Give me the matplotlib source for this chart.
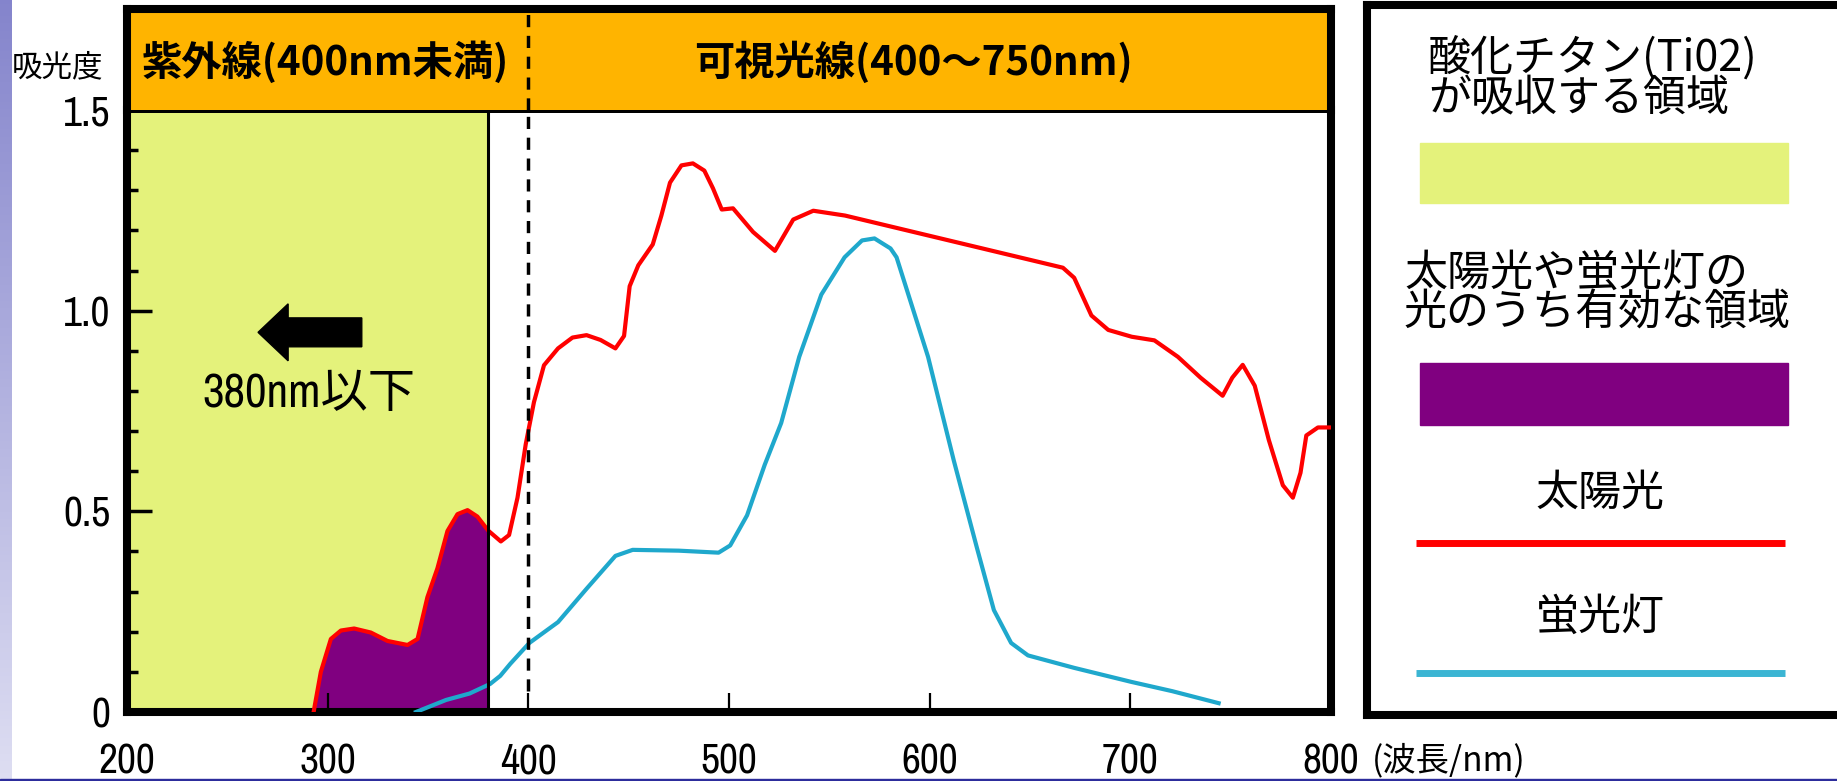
import numpy as np
import matplotlib.pyplot as plt
from matplotlib import font_manager
from matplotlib.patches import Rectangle
from matplotlib.ticker import MultipleLocator

JP = ['Noto Sans CJK JP', 'DejaVu Sans']
plt.rcParams['font.family'] = JP

# narrow upright face for the axis numbers, if one is installed
_narrow = [f.name for f in font_manager.fontManager.ttflist
           if 'Narrow' in f.name and f.style == 'normal']
NUM_FAMILY = [_narrow[0]] if _narrow else ['Liberation Sans']

# 太陽光 (wavelength nm, absorbance)
sun_nm = [293, 296.6, 301.6, 306.6, 313.2, 321.5, 329.8, 339.8, 344.8, 349.7,
          354.7, 359.7, 364.7, 369.7, 374.6, 380, 386.3, 390.4, 394.6, 398.7,
          402.8, 407.8, 414.8, 422, 429, 436, 443.4, 447.7, 450.5, 454.8,
          462, 466.3, 470.6, 476.3, 482, 487.7, 492, 496.4, 502, 512,
          522.9, 532, 542, 557.8, 666.4, 672, 680.6, 689, 700.7, 712,
          723.7, 735, 746, 750.8, 756, 762, 769, 776, 781, 784.8,
          787.7, 793.5, 800]
sun_abs = [0.0, 0.10, 0.182, 0.203, 0.208, 0.198, 0.177, 0.167, 0.182, 0.286,
           0.358, 0.451, 0.493, 0.503, 0.487, 0.452, 0.425, 0.441, 0.534, 0.667,
           0.772, 0.864, 0.906, 0.933, 0.939, 0.927, 0.906, 0.937, 1.061, 1.113,
           1.165, 1.237, 1.319, 1.362, 1.367, 1.349, 1.305, 1.252, 1.255, 1.196,
           1.149, 1.227, 1.249, 1.237, 1.107, 1.082, 0.988, 0.952, 0.935, 0.926,
           0.885, 0.833, 0.788, 0.833, 0.865, 0.813, 0.678, 0.565, 0.534, 0.596,
           0.689, 0.709, 0.709]

# 蛍光灯
lamp_nm = [344, 359, 370.7, 381, 386, 391, 400.5, 414.8, 429, 443.4,
           452, 475, 494.8, 500.6, 509, 517.8, 526, 535, 546, 557.6,
           566.3, 572.5, 580.5, 583.5, 599.2, 612, 623.5, 632, 640.6, 649,
           672, 700.5, 720.8, 744]
lamp_abs = [0.0, 0.03, 0.046, 0.07, 0.09, 0.12, 0.172, 0.224, 0.307, 0.389,
            0.404, 0.402, 0.397, 0.415, 0.49, 0.616, 0.72, 0.885, 1.04, 1.133,
            1.175, 1.18, 1.155, 1.133, 0.885, 0.627, 0.41, 0.254, 0.172, 0.141,
            0.11, 0.075, 0.052, 0.022]

uv_edge = 380        # TiO2 absorption edge
visible_edge = 400
xticks = [200, 300, 400, 500, 600, 700, 800]
yticks = [0, 0.5, 1.0, 1.5]
ytick_labels = ['0', '0.5', '1.0', '1.5']
band_labels = ['紫外線(400nm未満)', '可視光線(400～750nm)']
legend_titles = [['酸化チタン(Ti02)', 'が吸収する領域'],
                 ['太陽光や蛍光灯の', '光のうち有効な領域']]
series_names = ['太陽光', '蛍光灯']

YG = '#E4F27B'
PURPLE = '#800080'
RED = '#FF0000'
CYAN = '#1FA8CC'
ORANGE = '#FFB400'

W, H = 1837, 781
fig = plt.figure(figsize=(W / 100, H / 100), dpi=100)


def fx(px):
    return px / W


def fy(py):
    return 1 - py / H


# slide background bits
strip = fig.add_axes([0, 0, fx(12), 1])
grad = np.linspace(0, 1, 200)[:, None]
top_c = np.array([0.52, 0.52, 0.80])
bot_c = np.array([0.87, 0.87, 0.95])
strip.imshow(top_c + grad[:, :, None] * (bot_c - top_c), aspect='auto')
strip.axis('off')
fig.patches.append(Rectangle((0, 0), 1, 2.5 / H, transform=fig.transFigure,
                             color='#2d2d9c'))

# main plot
ax = fig.add_axes([fx(127), fy(712), fx(1331) - fx(127), fy(110) - fy(712)])
ax.set_xlim(200, 800)
ax.set_ylim(0, 1.5)

sx = np.array(sun_nm)
sy = np.array(sun_abs)
ax.axvspan(200, uv_edge, color=YG, zorder=0)
m = sx <= uv_edge
ax.fill_between(sx[m], sy[m], color=PURPLE, lw=0, zorder=1)
ax.plot(sx, sy, color=RED, lw=3, zorder=3)
ax.plot(lamp_nm, lamp_abs, color=CYAN, lw=3, zorder=4)
ax.axvline(uv_edge, color='black', lw=2.2, zorder=5)
ax.axvline(visible_edge, ymin=0.035, color='black', lw=2.5,
           ls=(0, (3.5, 2.5)), zorder=5)

ax.arrow(317, 0.946, -51.7, 0, width=0.072, head_width=0.142, head_length=15,
         length_includes_head=True, color='black', zorder=6)
ax.text(290.4, 0.793, '380nm以下', family=NUM_FAMILY + JP, fontsize=34,
        ha='center', va='center', zorder=6)

for side in ['left', 'right', 'bottom']:
    ax.spines[side].set_linewidth(5.8)
ax.spines['top'].set_linewidth(3.6)

ax.set_xticks(xticks)
ax.set_xticklabels([str(t) for t in xticks])
ax.set_yticks(yticks)
ax.set_yticklabels(ytick_labels)
ax.yaxis.set_minor_locator(MultipleLocator(0.1))
ax.tick_params(axis='y', which='major', direction='in', length=18, width=2.5,
               pad=12)
ax.tick_params(axis='y', which='minor', direction='in', length=8, width=2.5)
ax.tick_params(axis='x', which='major', direction='in', length=14, width=1.6,
               pad=22)
for lab in ax.get_xticklabels() + ax.get_yticklabels():
    lab.set_family(NUM_FAMILY)
    lab.set_style('normal')
    lab.set_fontsize(30)

fig.text(fx(1372), fy(761), '(波長/nm)', fontsize=24, ha='left', va='center')
fig.text(fx(12), fy(68), '吸光度', fontsize=22, ha='left', va='center')

# orange header band
band = fig.add_axes([fx(127), fy(110), fx(1331) - fx(127), fy(9) - fy(110)])
band.set_facecolor(ORANGE)
band.set_xlim(200, 800)
band.set_ylim(0, 1)
band.set_xticks([])
band.set_yticks([])
for side in ['left', 'right', 'top']:
    band.spines[side].set_linewidth(5.8)
band.spines['bottom'].set_visible(False)
band.axvline(visible_edge, color='black', lw=2.5, ls=(0, (3.5, 2.5)))
band.text(299, 0.47, band_labels[0], weight='bold', fontsize=29,
          ha='center', va='center')
band.text(592, 0.47, band_labels[1], weight='bold', fontsize=29,
          ha='center', va='center')

# legend panel (coordinates in pixels from the top-left)
leg = fig.add_axes([fx(1367), fy(715), 600 / W, fy(5) - fy(715)])
leg.set_xlim(1367, 1967)
leg.set_ylim(715, 5)
leg.set_xticks([])
leg.set_yticks([])
for s in leg.spines.values():
    s.set_linewidth(5.8)

leg.text(1428, 58, legend_titles[0][0], fontsize=31, va='center')
leg.text(1428, 99, legend_titles[0][1], fontsize=31, va='center')
leg.add_patch(Rectangle((1420, 143), 368, 60, color=YG))
leg.text(1404, 274, legend_titles[1][0], fontsize=31, va='center')
leg.text(1404, 314, legend_titles[1][1], fontsize=31, va='center')
leg.add_patch(Rectangle((1420, 363), 368, 62, color=PURPLE))
leg.text(1600, 494, series_names[0], fontsize=31, ha='center', va='center')
leg.plot([1416, 1785], [543, 543], color=RED, lw=5, solid_capstyle='butt')
leg.text(1600, 618, series_names[1], fontsize=31, ha='center', va='center')
leg.plot([1416, 1785], [673, 673], color='#3BB5D3', lw=5, solid_capstyle='butt')

fig.savefig('out.png', dpi=100)
